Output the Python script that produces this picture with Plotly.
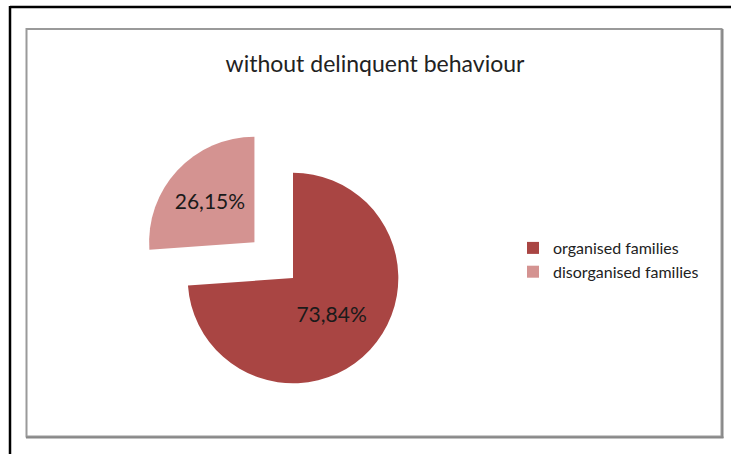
import plotly.graph_objects as go

labels = ["organised families", "disorganised families"]
values = [73.84, 26.15]
colors = ["#A94543", "#D49391"]
pulls = [0, 0.5]
title_text = "without delinquent behaviour"

W, H = 731, 454

def px(x):
    return x / W

def py(y):
    return 1 - y / H

text_labels = [("%.2f%%" % v).replace(".", ",") for v in values]

fig = go.Figure(go.Pie(
    labels=labels,
    values=values,
    text=text_labels,
    textinfo="text",
    textposition="inside",
    insidetextorientation="horizontal",
    sort=False,
    direction="clockwise",
    rotation=0,
    pull=pulls,
    marker=dict(colors=colors, line=dict(width=0)),
    textfont=dict(family="Lato", size=21, color="#1a1a1a"),
    domain=dict(x=[px(135), px(451)], y=[py(436), py(120)]),
    hoverinfo="label+percent",
))

shapes = [
    # outer black frame (left and top visible)
    dict(type="line", xref="paper", yref="paper", x0=px(10), x1=px(740), y0=py(7), y1=py(7),
         line=dict(color="black", width=2.5)),
    dict(type="line", xref="paper", yref="paper", x0=px(10), x1=px(10), y0=py(6), y1=py(470),
         line=dict(color="black", width=2.5)),
    # inner grey frame with shadow
    dict(type="rect", xref="paper", yref="paper", x0=px(26.5), x1=px(721.5), y0=py(29), y1=py(436.5),
         line=dict(color="#9a9a9a", width=2)),
    dict(type="line", xref="paper", yref="paper", x0=px(722.5), x1=px(722.5), y0=py(29), y1=py(438),
         line=dict(color="#888888", width=2)),
    dict(type="line", xref="paper", yref="paper", x0=px(26), x1=px(723.5), y0=py(437.5), y1=py(437.5),
         line=dict(color="#888888", width=2)),
]

fig.update_layout(
    width=W, height=H,
    margin=dict(l=0, r=0, t=0, b=0),
    paper_bgcolor="white",
    plot_bgcolor="white",
    shapes=shapes,
    title=dict(text=title_text, x=px(375), y=py(64), xanchor="center", yanchor="middle",
               font=dict(family="Lato", size=23, color="#222222")),
    legend=dict(x=px(513), y=py(260), xanchor="left", yanchor="middle",
                font=dict(family="Lato", size=16, color="#222222"),
                itemclick=False, tracegroupgap=0),
    showlegend=True,
)

fig.write_html("out.html", config={"displayModeBar": False},
               post_script="document.body.style.margin='0';document.body.style.overflow='hidden';")
